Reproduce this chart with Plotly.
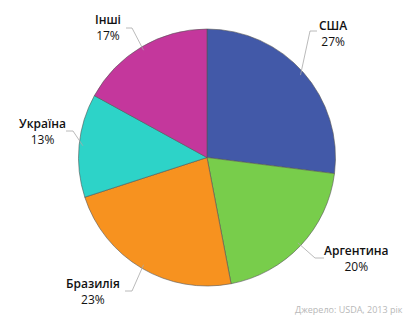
import math
import plotly.graph_objects as go

# ---- data ----
countries = ["США", "Аргентина", "Бразилія", "Україна", "Інші"]
shares = [27, 20, 23, 13, 17]
colors = ["#4259A8", "#78CD4B", "#F7921F", "#2DD3C8", "#C4379C"]
source_text = "Джерело: USDA, 2013 рік"

# ---- layout (pixels) ----
W, H = 411, 336
cx, cy, R = 207, 157.5, 128.5

# label block centre and leader elbow (pixel positions, style only)
label_pos = [(333, 34), (356, 258), (93, 291), (42, 132), (108, 27)]
elbows = [(310, 31), (315, 258), (132, 291), (73, 131), (132, 28)]
ends = [(317, 31), (324, 258), (125, 291), (66, 131), (126, 28)]

def px(x):
    return x / W

def py(y):
    return 1 - y / H

fig = go.Figure()
fig.add_trace(go.Pie(
    labels=countries,
    values=shares,
    sort=False,
    direction="clockwise",
    rotation=0,
    textinfo="none",
    hoverinfo="label+percent",
    marker=dict(colors=colors, line=dict(color="#555555", width=0.6)),
    domain=dict(x=[px(cx - R), px(cx + R)], y=[py(cy + R), py(cy - R)]),
    showlegend=False,
))

total = sum(shares)
cum = 0
shapes = []
annotations = []
for i, (name, v) in enumerate(zip(countries, shares)):
    mid = (cum + v / 2) / total * 2 * math.pi
    cum += v
    sx = cx + R * 0.97 * math.sin(mid)
    sy = cy - R * 0.97 * math.cos(mid)
    ex, ey = elbows[i]
    tx, ty = ends[i]
    path = f"M {px(sx)},{py(sy)} L {px(ex)},{py(ey)} L {px(tx)},{py(ty)}"
    shapes.append(dict(type="path", xref="paper", yref="paper", path=path,
                       line=dict(color="#a8a8a8", width=0.8)))
    lx, ly = label_pos[i]
    pct = round(v / total * 100)
    annotations.append(dict(
        x=px(lx), y=py(ly), xref="paper", yref="paper", showarrow=False,
        xanchor="center", yanchor="middle", align="center",
        text=f"<span style='font-weight:600'>{name}</span><br>{pct}%",
        font=dict(family="Open Sans, Noto Sans, sans-serif", size=12, color="#111111"),
    ))

annotations.append(dict(
    x=px(405), y=py(309), xref="paper", yref="paper", showarrow=False,
    xanchor="right", yanchor="middle", text=source_text,
    font=dict(family="Open Sans, Noto Sans, sans-serif", size=9, color="#b8b8b8"),
))

fig.update_layout(
    width=W, height=H,
    margin=dict(l=0, r=0, t=0, b=0),
    paper_bgcolor="white", plot_bgcolor="white",
    shapes=shapes, annotations=annotations,
)
fig.write_html("out.html")
